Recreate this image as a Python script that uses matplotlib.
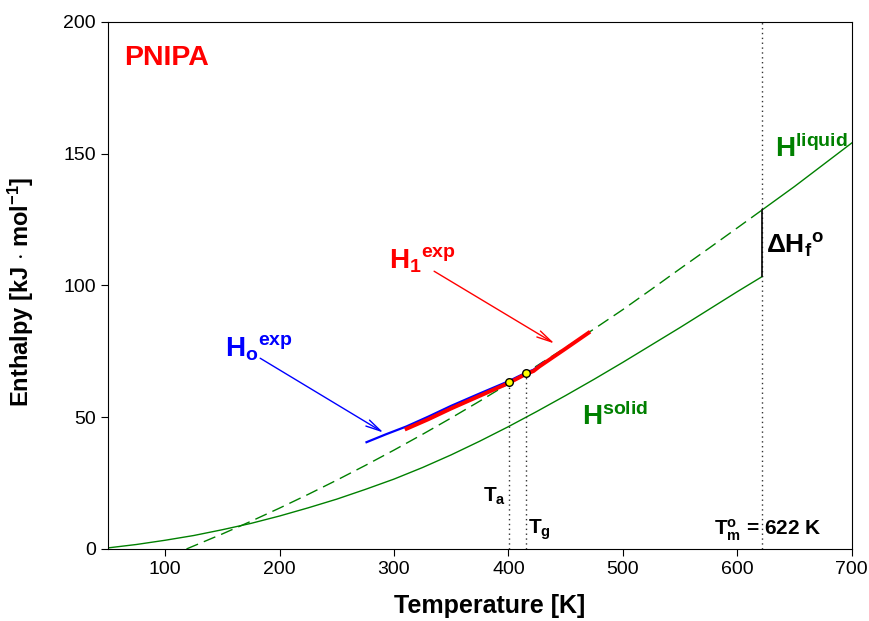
import numpy as np
import matplotlib
matplotlib.use('Agg')
import matplotlib.pyplot as plt

plt.rcParams['font.family'] = ['Liberation Sans', 'DejaVu Sans']
plt.rcParams['mathtext.fontset'] = 'custom'
plt.rcParams['mathtext.rm'] = 'Liberation Sans'
plt.rcParams['mathtext.bf'] = 'Liberation Sans:bold'
plt.rcParams['mathtext.it'] = 'Liberation Sans:italic'

# ── data ────────────────────────────────────────────────────────────
T_solid = [50, 75, 100, 125, 150, 175, 200, 225, 250, 275, 300, 325, 350,
           375, 400, 425, 450, 475, 500, 525, 550, 575, 600, 622]
H_solid = [0.4, 1.7, 3.3, 5.1, 7.3, 9.7, 12.5, 15.6, 18.9, 22.6, 26.5, 30.9,
           35.7, 40.9, 46.4, 52.2, 58.2, 64.4, 70.8, 77.4, 84.0, 90.8, 97.6,
           103.4]

T_liq_ext = [118.7, 150, 175, 200, 225, 250, 275, 300, 325, 350, 375, 400,
             425, 450, 475, 500, 525, 550, 575, 600, 622]
H_liq_ext = [0.0, 5.7, 10.5, 15.5, 20.7, 26.1, 31.7, 37.5, 43.5, 49.7, 56.1,
             62.7, 69.5, 76.4, 83.5, 90.8, 98.5, 106.3, 114.0, 121.8, 128.7]

T_liq = [622, 650, 700]
H_liq = [128.7, 137.5, 154.0]

T_h0 = [276, 293, 311, 330, 350, 375, 400, 415, 422, 430]
H_h0 = [40.5, 43.5, 46.5, 50.2, 54.3, 59.0, 63.6, 66.8, 68.0, 70.6]

T_h1 = [311, 330, 350, 375, 400, 415, 422, 427, 450, 470]
H_h1 = [45.6, 49.2, 53.3, 58.1, 62.9, 66.3, 67.5, 69.2, 76.0, 82.0]

T_a, H_a = 400.3, 63.4
T_g, H_g = 415.2, 66.8
T_m = 622
dH_lo, dH_hi = 103.4, 128.7

GREEN = '#008000'
DOT = (0, (1, 2.5))

fig = plt.figure(figsize=(8.7, 6.21), dpi=100)
ax = fig.add_axes([0.124, 0.116, 0.855, 0.849])

ax.plot(T_solid, H_solid, color=GREEN, lw=1.0)
ax.plot(T_liq_ext, H_liq_ext, color=GREEN, lw=1.0, dashes=(9, 4.5))
ax.plot(T_liq, H_liq, color=GREEN, lw=1.0)

ax.plot(T_h0, H_h0, color='#0000ff', lw=1.6, zorder=3)
ax.plot(T_h1, H_h1, color='#ff0000', lw=2.8, zorder=4)

# vertical markers
ax.plot([T_a, T_a], [0, H_a], color='#333333', lw=1.0, ls=DOT)
ax.plot([T_g, T_g], [0, H_g], color='#333333', lw=1.0, ls=DOT)
ax.plot([T_m, T_m], [0, 200], color='#333333', lw=1.0, ls=DOT)
ax.plot([T_m, T_m], [dH_lo, dH_hi], color='black', lw=1.2, zorder=5)

ax.plot([T_a, T_g], [H_a, H_g], 'o', ms=5.5, mfc='#ffff00', mec='black',
        mew=1.0, zorder=6)

# arrows
ax.annotate('', xy=(292.9, 43.6), xytext=(181, 72.9),
            arrowprops=dict(arrowstyle='->,head_length=1.1,head_width=0.25',
                            color='#0000ff', lw=1.0))
ax.annotate('', xy=(442.3, 77.4), xytext=(333, 105.9),
            arrowprops=dict(arrowstyle='->,head_length=1.1,head_width=0.25',
                            color='#ff0000', lw=1.0))

# labels
ax.text(64, 183.7, 'PNIPA', color='#ff0000', fontsize=20.5, fontweight='bold',
        va='baseline', ha='left')
ax.text(152.2, 72.9, r'$\mathbf{H_o{}^{exp}}$', color='#0000ff', fontsize=20,
        ha='left', va='baseline')
ax.text(295.5, 106.5, r'$\mathbf{H_1{}^{exp}}$', color='#ff0000', fontsize=20,
        ha='left', va='baseline')
ax.text(632.7, 148.6, r'$\mathbf{H^{liquid}}$', color=GREEN, fontsize=20,
        ha='left', va='baseline')
ax.text(463.9, 47.1, r'$\mathbf{H^{solid}}$', color=GREEN, fontsize=20,
        ha='left', va='baseline')
ax.text(624.9, 112.2, r'$\mathbf{\Delta H_f{}^o}$', color='black', fontsize=19,
        ha='left', va='baseline')
ax.text(377.4, 18.0, r'$\mathbf{T_a}$', color='black', fontsize=15,
        ha='left', va='baseline')
ax.text(417.2, 5.95, r'$\mathbf{T_g}$', color='black', fontsize=15,
        ha='left', va='baseline')
ax.text(579.7, 5.3, r'$\mathbf{T_m^o}$ = 622 K', color='black', fontsize=15,
        fontweight='bold', ha='left', va='baseline')

ax.set_xlim(50, 700)
ax.set_ylim(0, 200)
ax.set_xticks([100, 200, 300, 400, 500, 600, 700])
ax.set_yticks([0, 50, 100, 150, 200])
ax.tick_params(direction='out', length=5, labelsize=14, top=False, right=False)
ax.set_xlabel('Temperature [K]', fontsize=18, fontweight='bold')
ax.set_ylabel(r'Enthalpy [kJ $\cdot$ mol$^{\mathbf{-1}}$]', fontsize=17,
              fontweight='bold')
ax.xaxis.set_label_coords((490 - 108) / 744, -0.085)
ax.yaxis.set_label_coords((36 - 108) / 744, 0.488)

fig.savefig('out.png', dpi=100)
